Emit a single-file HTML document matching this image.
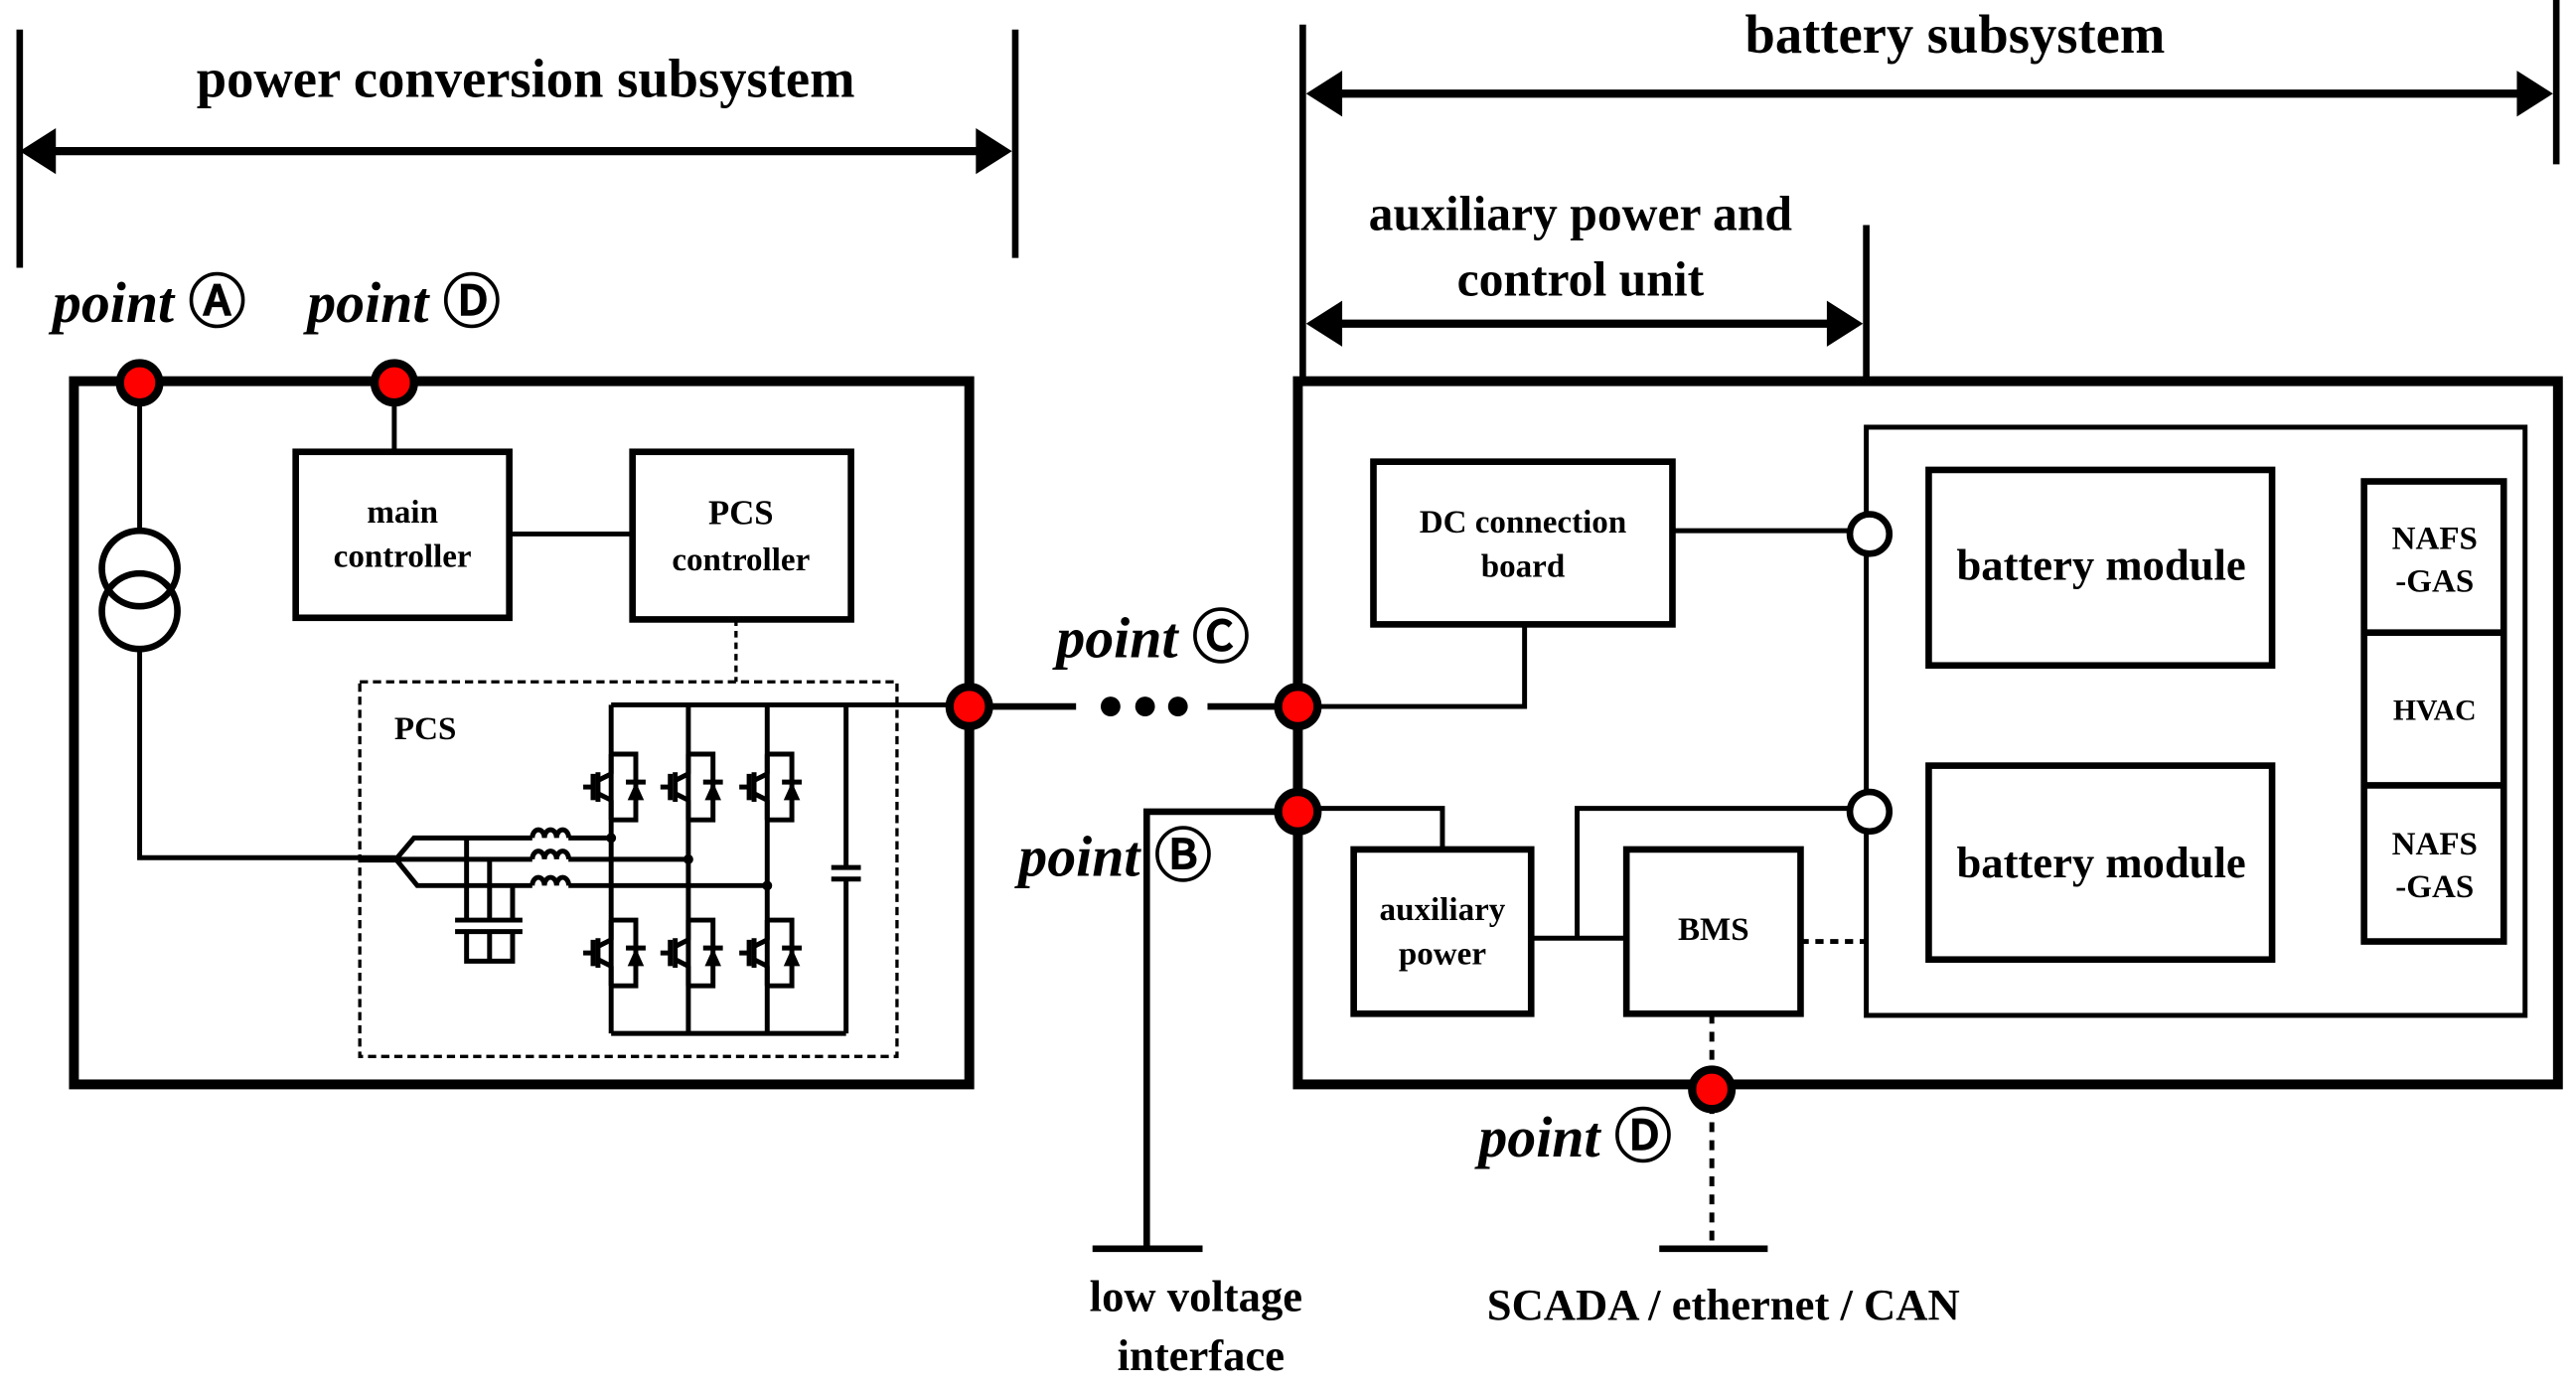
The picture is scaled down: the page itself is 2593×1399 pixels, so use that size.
<!DOCTYPE html>
<html><head><meta charset="utf-8"><style>
html,body{margin:0;padding:0;background:#fff;}
svg{display:block;}
text{font-family:"Liberation Serif",serif;font-weight:bold;fill:#000;}
.pt{font-style:italic;font-size:35px;}
.cc{font-family:"DejaVu Sans",sans-serif;font-style:normal;font-weight:bold;font-size:35px;}
</style></head><body>
<svg width="2593" height="1399" viewBox="0 0 1568 846" preserveAspectRatio="none" xmlns="http://www.w3.org/2000/svg">
<defs>
<g id="sw" fill="none" stroke="#000" stroke-width="3">
  <polyline points="0,-20 15,-20 15,20 0,20"/>
  <line x1="0" y1="-20" x2="0" y2="-8"/>
  <line x1="0" y1="20" x2="0" y2="8"/>
  <line x1="0" y1="-8" x2="-8" y2="-4"/>
  <line x1="0" y1="8" x2="-8" y2="4"/>
  <line x1="-8" y1="-9" x2="-8" y2="9"/>
  <line x1="-17" y1="0" x2="-11" y2="0"/>
  <line x1="-11" y1="-8" x2="-11" y2="8"/>
  <polygon points="10,8 20,8 15,-3" fill="#000" stroke="none"/>
  <line x1="9" y1="-3" x2="21" y2="-3"/>
</g>
</defs>
<g stroke="#000" fill="none">
<line x1="12" y1="18" x2="12" y2="163" stroke-width="4"/>
<line x1="618" y1="18" x2="618" y2="157" stroke-width="4"/>
<line x1="30" y1="92" x2="600" y2="92" stroke-width="5"/>
<line x1="793" y1="15" x2="793" y2="232" stroke-width="4"/>
<line x1="1556" y1="0" x2="1556" y2="100" stroke-width="4"/>
<line x1="810" y1="57" x2="1538" y2="57" stroke-width="5"/>
<line x1="1136" y1="137" x2="1136" y2="232" stroke-width="4"/>
<line x1="810" y1="197" x2="1118" y2="197" stroke-width="5"/>
</g>
<g fill="#000">
<polygon points="12,92 34,78 34,106"/>
<polygon points="616,92 594,78 594,106"/>
<polygon points="795,57 817,43 817,71"/>
<polygon points="1554,57 1532,43 1532,71"/>
<polygon points="795,197 817,183 817,211"/>
<polygon points="1134,197 1112,183 1112,211"/>
</g>
<text x="320" y="59" font-size="33" text-anchor="middle">power conversion subsystem</text>
<text x="1190" y="32" font-size="33" text-anchor="middle">battery subsystem</text>
<text x="962" y="140" font-size="30" text-anchor="middle">auxiliary power and</text>
<text x="962" y="180" font-size="30" text-anchor="middle">control unit</text>

<text class="pt" x="32" y="196">point <tspan class="cc">Ⓐ</tspan></text>
<text class="pt" x="187" y="196">point <tspan class="cc">Ⓓ</tspan></text>
<text class="pt" x="643" y="400">point <tspan class="cc">Ⓒ</tspan></text>
<text class="pt" x="620" y="533">point <tspan class="cc">Ⓑ</tspan></text>
<text class="pt" x="900" y="704">point <tspan class="cc">Ⓓ</tspan></text>

<g stroke="#000" fill="none">
<rect x="45" y="232" width="545" height="428" stroke-width="6"/>
<line x1="85" y1="233" x2="85" y2="322" stroke-width="3"/>
<circle cx="85" cy="346" r="23" stroke-width="4"/>
<circle cx="85" cy="372" r="23" stroke-width="4"/>
<polyline points="85,395 85,522 241,522" stroke-width="3"/>
<line x1="240" y1="233" x2="240" y2="275" stroke-width="3"/>
<rect x="180" y="275" width="130" height="101" stroke-width="4"/>
<rect x="385" y="275" width="133" height="102" stroke-width="4"/>
<line x1="310" y1="325" x2="385" y2="325" stroke-width="3"/>
<line x1="448" y1="377" x2="448" y2="415" stroke-width="2" stroke-dasharray="4,3"/>
<rect x="219" y="415" width="327" height="228" stroke-width="2" stroke-dasharray="5,3"/>
<g stroke-width="3">
<line x1="372" y1="429" x2="590" y2="429"/>
<line x1="372" y1="629" x2="515" y2="629"/>
<line x1="372" y1="429" x2="372" y2="629"/>
<line x1="419" y1="429" x2="419" y2="629"/>
<line x1="467" y1="429" x2="467" y2="629"/>
<line x1="515" y1="429" x2="515" y2="528"/>
<line x1="515" y1="535" x2="515" y2="629"/>
<line x1="506" y1="528" x2="524" y2="528"/>
<line x1="506" y1="535" x2="524" y2="535"/>
<polyline points="241,523 252,510 324,510"/>
<line x1="241" y1="523" x2="324" y2="523"/>
<polyline points="241,523 254,539 324,539"/>
<line x1="346" y1="510" x2="372" y2="510"/>
<line x1="346" y1="523" x2="419" y2="523"/>
<line x1="346" y1="539" x2="467" y2="539"/>
<path d="M324,510 a3.7,5 0 0 1 7.4,0 a3.7,5 0 0 1 7.4,0 a3.7,5 0 0 1 7.4,0"/>
<path d="M324,523 a3.7,5 0 0 1 7.4,0 a3.7,5 0 0 1 7.4,0 a3.7,5 0 0 1 7.4,0"/>
<path d="M324,539 a3.7,5 0 0 1 7.4,0 a3.7,5 0 0 1 7.4,0 a3.7,5 0 0 1 7.4,0"/>
<line x1="284" y1="510" x2="284" y2="560"/>
<line x1="298" y1="523" x2="298" y2="560"/>
<line x1="312" y1="539" x2="312" y2="560"/>
<line x1="277" y1="560" x2="318" y2="560"/>
<line x1="277" y1="567" x2="318" y2="567"/>
<polyline points="284,567 284,585 312,585 312,567"/>
<line x1="298" y1="567" x2="298" y2="585"/>
</g>
<line x1="219" y1="523" x2="241" y2="523" stroke-width="4"/>
</g>
<g fill="#000">
<circle cx="372" cy="510" r="3"/><circle cx="419" cy="523" r="3"/><circle cx="467" cy="539" r="3"/>
</g>
<use href="#sw" x="372" y="479"/><use href="#sw" x="419" y="479"/><use href="#sw" x="467" y="479"/>
<use href="#sw" x="372" y="580"/><use href="#sw" x="419" y="580"/><use href="#sw" x="467" y="580"/>

<text x="245" y="318" font-size="20" text-anchor="middle">main</text>
<text x="245" y="345" font-size="20" text-anchor="middle">controller</text>
<text x="451" y="319" font-size="21" text-anchor="middle">PCS</text>
<text x="451" y="347" font-size="20" text-anchor="middle">controller</text>
<text x="240" y="450" font-size="20">PCS</text>

<g stroke="#000" stroke-width="4" fill="none">
<line x1="590" y1="430" x2="655" y2="430"/>
<line x1="735" y1="430" x2="790" y2="430"/>
<polyline points="790,494 698,494 698,760"/>
<line x1="665" y1="760" x2="732" y2="760"/>
</g>
<g fill="#000"><circle cx="676" cy="430" r="6"/><circle cx="697" cy="430" r="6"/><circle cx="717" cy="430" r="6"/></g>
<text x="728" y="798" font-size="27" text-anchor="middle">low voltage</text>
<text x="731" y="834" font-size="27" text-anchor="middle">interface</text>

<g stroke="#000" fill="none">
<rect x="790" y="232" width="767" height="428" stroke-width="6"/>
<rect x="1136" y="260" width="401" height="358" stroke-width="3"/>
<rect x="836" y="281" width="182" height="99" stroke-width="4"/>
<line x1="1018" y1="323" x2="1125" y2="323" stroke-width="3"/>
<polyline points="928,380 928,430 790,430" stroke-width="3"/>
<polyline points="790,492 878,492 878,517" stroke-width="3"/>
<rect x="824" y="517" width="108" height="100" stroke-width="4"/>
<rect x="990" y="517" width="106" height="100" stroke-width="4"/>
<line x1="932" y1="571" x2="990" y2="571" stroke-width="3"/>
<polyline points="960,571 960,492 1125,492" stroke-width="3"/>
<line x1="1096" y1="573" x2="1136" y2="573" stroke-width="3" stroke-dasharray="5,4"/>
<rect x="1174" y="286" width="209" height="119" stroke-width="4"/>
<rect x="1174" y="466" width="209" height="118" stroke-width="4"/>
<rect x="1439" y="293" width="85" height="280" stroke-width="4"/>
<line x1="1439" y1="385" x2="1524" y2="385" stroke-width="4"/>
<line x1="1439" y1="478" x2="1524" y2="478" stroke-width="4"/>
<line x1="1042" y1="617" x2="1042" y2="760" stroke-width="3" stroke-dasharray="6,5"/>
<line x1="1010" y1="760" x2="1076" y2="760" stroke-width="4"/>
<circle cx="1138" cy="325" r="12" stroke-width="4" fill="#fff"/>
<circle cx="1138" cy="494" r="12" stroke-width="4" fill="#fff"/>
</g>
<text x="927" y="324" font-size="20" text-anchor="middle">DC connection</text>
<text x="927" y="351" font-size="20" text-anchor="middle">board</text>
<text x="878" y="560" font-size="20" text-anchor="middle">auxiliary</text>
<text x="878" y="587" font-size="20" text-anchor="middle">power</text>
<text x="1043" y="572" font-size="20" text-anchor="middle">BMS</text>
<text x="1279" y="353" font-size="27" text-anchor="middle">battery module</text>
<text x="1279" y="534" font-size="27" text-anchor="middle">battery module</text>
<text x="1482" y="334" font-size="20" text-anchor="middle">NAFS</text>
<text x="1482" y="360" font-size="20" text-anchor="middle">-GAS</text>
<text x="1482" y="438" font-size="18" text-anchor="middle">HVAC</text>
<text x="1482" y="520" font-size="20" text-anchor="middle">NAFS</text>
<text x="1482" y="546" font-size="20" text-anchor="middle">-GAS</text>
<text x="1049" y="803" font-size="27" text-anchor="middle">SCADA / ethernet / CAN</text>

<g fill="#f00" stroke="#000" stroke-width="5">
<circle cx="85" cy="233" r="12"/>
<circle cx="240" cy="233" r="12"/>
<circle cx="590" cy="430" r="12"/>
<circle cx="790" cy="430" r="12"/>
<circle cx="790" cy="494" r="12"/>
<circle cx="1042" cy="663" r="12"/>
</g>
</svg>
</body></html>
